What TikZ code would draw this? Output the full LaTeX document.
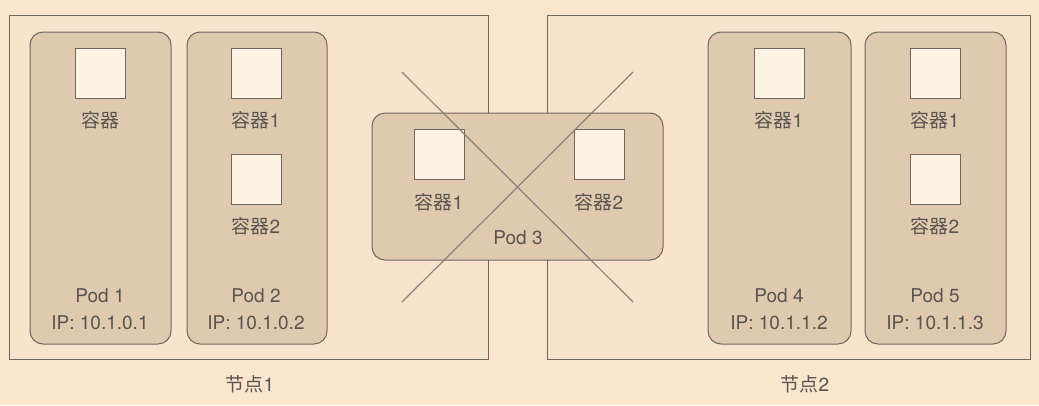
\documentclass[tikz,border=0pt]{standalone}
\usepackage{fontspec}
\setmainfont{TeX Gyre Heros}
\newfontfamily\cjk{Noto Sans CJK SC}
\definecolor{bgc}{HTML}{FBE6CD}
\definecolor{nodefill}{HTML}{F8E4CC}
\definecolor{podfill}{HTML}{E0CAAF}
\definecolor{boxfill}{HTML}{FEF2E2}
\definecolor{linec}{HTML}{6E6660}
\definecolor{crossc}{HTML}{8C8179}
\definecolor{txtc}{HTML}{5A5450}
\newcommand{\zh}[1]{{\cjk #1}}
\begin{document}
\begin{tikzpicture}[x=1pt,y=-1pt,
  hostbox/.style={draw=linec,line width=0.9pt,fill=nodefill},
  podbox/.style={draw=linec,line width=1pt,fill=podfill,rounded corners=13pt},
  ctr/.style={draw=linec,line width=1pt,fill=boxfill,minimum width=50pt,minimum height=50pt,inner sep=0pt},
  lbl/.style={text=txtc,font=\fontsize{19}{21}\selectfont,inner sep=0pt,anchor=base},
  crossline/.style={draw=crossc,line width=1.2pt}]
\fill[bgc] (0,0) rectangle (1039,405);
\useasboundingbox (0,0) rectangle (1039,405);
% hosts
\draw[hostbox] (9,15) rectangle (488,359);
\draw[hostbox] (547,15) rectangle (1030,359);
\node[lbl] (n1) at (250,391) {\zh{节点}1};
\node[lbl] (n2) at (805,391) {\zh{节点}2};
% Pod 1
\draw[podbox] (30,32) rectangle (171,344);
\node[ctr] (c11) at (100,73) {};
\node[lbl] (l11) at (100,127) {\zh{容器}};
\node[lbl] (p1) at (100,302) {Pod 1};
\node[lbl] (ip1) at (100,329) {IP: 10.1.0.1};
% Pod 2
\draw[podbox] (187,32) rectangle (327,344);
\node[ctr] (c21) at (256,73) {};
\node[lbl] (l21) at (256,127) {\zh{容器}1};
\node[ctr] (c22) at (256,179) {};
\node[lbl] (l22) at (256,233) {\zh{容器}2};
\node[lbl] (p2) at (256,302) {Pod 2};
\node[lbl] (ip2) at (256,329) {IP: 10.1.0.2};
% Pod 4
\draw[podbox] (708,32) rectangle (851,344);
\node[ctr] (c41) at (779,73) {};
\node[lbl] (l41) at (779,127) {\zh{容器}1};
\node[lbl] (p4) at (779,302) {Pod 4};
\node[lbl] (ip4) at (779,329) {IP: 10.1.1.2};
% Pod 5
\draw[podbox] (865,32) rectangle (1006,344);
\node[ctr] (c51) at (935,73) {};
\node[lbl] (l51) at (935,127) {\zh{容器}1};
\node[ctr] (c52) at (935,179) {};
\node[lbl] (l52) at (935,233) {\zh{容器}2};
\node[lbl] (p5) at (935,302) {Pod 5};
\node[lbl] (ip5) at (935,329) {IP: 10.1.1.3};
% Pod 3
\draw[podbox] (372,113) rectangle (663,260);
\node[ctr] (c31) at (439,154.5) {};
\node[lbl] (l31) at (439,209) {\zh{容器}1};
\node[ctr] (c32) at (599,154.5) {};
\node[lbl] (l32) at (599,209) {\zh{容器}2};
\node[lbl] (p3) at (518,244) {Pod 3};
% cross
\coordinate (xa) at (402,72);
\coordinate (xb) at (633,302);
\coordinate (xc) at (402,302);
\coordinate (xd) at (633,72);
\draw[crossline] (xa) -- (xb);
\draw[crossline] (xc) -- (xd);
\end{tikzpicture}
\end{document}
